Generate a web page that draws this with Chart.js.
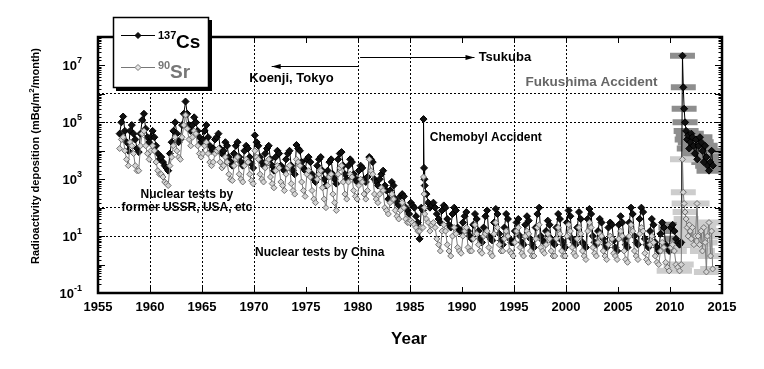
<!DOCTYPE html>
<html>
<head>
<meta charset="utf-8">
<script src="https://cdn.jsdelivr.net/npm/chart.js@4.4.1/dist/chart.umd.min.js"></script>
<style>
  html, body { margin: 0; padding: 0; background: #fff; }
</style>
</head>
<body>
<canvas id="myChart" width="764" height="369"></canvas>
<script>
// bimonthly samples, 6 per year, 1957 .. 2010 (mBq/m2/month)
let sampleStart = 1957;
let samplesPerYear = 6;

let csBimonthly = [
  4e4, 1e5, 1.6e5, 5e4, 2e4, 1e4,          // 1957
  5e4, 8e4, 4e4, 2.5e4, 1.2e4, 9e3,        // 1958
  4e4, 1.2e5, 2e5, 6e4, 3e4, 2e4,          // 1959
  3e4, 5e4, 3e4, 1.5e4, 8e3, 5e3,          // 1960
  6e3, 4e3, 3e3, 2.5e3, 2e3, 8e3,          // 1961
  2e4, 5e4, 1e5, 4e4, 2e4, 2.5e4,          // 1962
  8e4, 2e5, 5.4e5, 2e5, 8e4, 5e4,          // 1963
  8e4, 1.5e5, 1e5, 5e4, 3e4, 2e4,          // 1964
  2.5e4, 5e4, 8e4, 3e4, 1.5e4, 1e4,        // 1965
  1.2e4, 2.5e4, 3e4, 4e4, 1.2e4, 8e3,      // 1966
  1e4, 2e4, 1.5e4, 6e3, 4e3, 3e3,          // 1967
  8e3, 1.5e4, 2e4, 6e3, 4e3, 3e3,          // 1968
  1e4, 1.5e4, 1.2e4, 6e3, 3.5e3, 2.5e3,    // 1969
  3.5e4, 2e4, 1.5e4, 6e3, 4e3, 3e3,        // 1970
  8e3, 1.2e4, 1.5e4, 5e3, 3e3, 2e3,        // 1971
  6e3, 1e4, 8e3, 3e3, 2.5e3, 2e3,          // 1972
  5e3, 8e3, 1e4, 3e3, 2e3, 1.5e3,          // 1973
  1.6e4, 1.2e4, 1e4, 4e3, 2.5e3, 2e3,      // 1974
  5e3, 6e3, 4e3, 1.5e3, 1e3, 8e2,          // 1975
  3e3, 5e3, 6e3, 2e3, 1e3, 6e2,            // 1976
  2e3, 4e3, 5e3, 1.5e3, 1e3, 7e2,          // 1977
  5e3, 8e3, 9e3, 3e3, 1.5e3, 1e3,          // 1978
  3e3, 5e3, 4e3, 1.5e3, 1e3, 8e2,          // 1979
  2e3, 3e3, 2.5e3, 1e3, 8e2, 1.2e3,        // 1980
  6e3, 5e3, 4e3, 1e3, 8e2, 6e2,            // 1981
  1e3, 1.5e3, 2e3, 6e2, 4e2, 2e2,          // 1982
  4e2, 8e2, 6e2, 2e2, 1.5e2, 1.2e2,        // 1983
  2.5e2, 3e2, 2.5e2, 1e2, 8e1, 6e1,        // 1984
  1.5e2, 1.2e2, 1e2, 5e1, 3e1, 8,          // 1985
  1e2, 8e1, 6e2, 3e2, 1.5e2, 1e2,          // 1986
  1.2e2, 1.5e2, 1e2, 6e1, 4e1, 3e1,        // 1987
  8e1, 1.2e2, 1e2, 4e1, 2.5e1, 2e1,        // 1988
  6e1, 1e2, 8e1, 2e1, 1.5e1, 1.5e1,        // 1989
  30, 50, 70, 15, 10, 8,                   // 1990
  25, 60, 40, 15, 8, 6,                    // 1991
  20, 50, 80, 10, 8, 7,                    // 1992
  30, 90, 60, 12, 7, 5,                    // 1993
  20, 60, 40, 8, 6, 6,                     // 1994
  15, 30, 40, 10, 6, 5,                    // 1995
  25, 50, 35, 8, 5, 4,                     // 1996
  20, 60, 100, 10, 7, 6,                   // 1997
  15, 35, 25, 8, 6, 5,                     // 1998
  20, 60, 40, 7, 5, 4,                     // 1999
  30, 80, 50, 8, 6, 5,                     // 2000
  20, 70, 40, 6, 5, 4,                     // 2001
  40, 90, 60, 10, 6, 5,                    // 2002
  15, 40, 30, 8, 5, 4,                     // 2003
  20, 30, 25, 7, 4, 3,                     // 2004
  25, 50, 30, 8, 5, 4,                     // 2005
  30, 100, 60, 10, 6, 5,                   // 2006
  40, 100, 70, 8, 5, 4,                    // 2007
  15, 40, 25, 6, 4, 3,                     // 2008
  12, 30, 20, 5, 4, 3,                     // 2009
  20, 25, 15, 8, 6, 5                      // 2010
];

let srBimonthly = [
  1.2e4, 2.5e4, 3e4, 1e4, 5e3, 3e3,        // 1957
  2e4, 1.5e4, 8e3, 3e3, 2e3, 2e3,          // 1958
  1.5e4, 4e4, 5e4, 1.5e4, 8e3, 5e3,        // 1959
  1e4, 1.5e4, 1e4, 4e3, 2e3, 1.5e3,        // 1960
  1.5e3, 1.2e3, 8e2, 7e2, 6e2, 3e3,        // 1961
  6e3, 1.5e4, 3e4, 1e4, 6e3, 5e3,          // 1962
  3e4, 8e4, 1.8e5, 6e4, 2.5e4, 1.5e4,      // 1963
  3e4, 5e4, 4e4, 1.5e4, 8e3, 6e3,          // 1964
  8e3, 1.5e4, 2e4, 8e3, 4e3, 3e3,          // 1965
  4e3, 8e3, 1e4, 1.2e4, 4e3, 2.5e3,        // 1966
  3e3, 6e3, 4e3, 1.5e3, 1e3, 9e2,          // 1967
  3e3, 5e3, 6e3, 1.5e3, 1e3, 8e2,          // 1968
  3e3, 5e3, 4e3, 1.5e3, 9e2, 7e2,          // 1969
  1e4, 6e3, 5e3, 1.5e3, 1e3, 8e2,          // 1970
  2.5e3, 4e3, 5e3, 1.2e3, 7e2, 5e2,        // 1971
  2e3, 3e3, 2.5e3, 8e2, 6e2, 4e2,          // 1972
  1.5e3, 2.5e3, 3e3, 7e2, 4e2, 3e2,        // 1973
  5e3, 4e3, 3e3, 8e2, 4e2, 2.5e2,          // 1974
  1.5e3, 2e3, 1.2e3, 4e2, 2e2, 1.5e2,      // 1975
  1e3, 1.5e3, 2e3, 5e2, 2e2, 1e2,          // 1976
  6e2, 1.2e3, 1.5e3, 3e2, 1.5e2, 8e1,      // 1977
  1.5e3, 2.5e3, 3e3, 8e2, 3e2, 2e2,        // 1978
  8e2, 1.5e3, 1.2e3, 4e2, 2.5e2, 2e2,      // 1979
  6e2, 1e3, 8e2, 3e2, 2e2, 4e2,            // 1980
  5e3, 2e3, 1.5e3, 3e2, 2e2, 1.5e2,        // 1981
  3e2, 5e2, 4e2, 1e2, 8e1, 6e1,            // 1982
  1.5e2, 3e2, 2e2, 8e1, 5e1, 4e1,          // 1983
  8e1, 1.5e2, 1e2, 4e1, 3e1, 3e1,          // 1984
  3.5e1, 3e1, 2.5e1, 2e1, 1.5e1, 1.5e1,    // 1985
  2e1, 2e1, 6e1, 4e1, 3e1, 1.5e1,          // 1986
  2.5e1, 3e1, 2e1, 8, 5, 3,                // 1987
  1.5e1, 2.5e1, 1.5e1, 5, 3, 2,            // 1988
  1e1, 2e1, 1.2e1, 4, 3, 2.5,              // 1989
  10, 15, 20, 4, 3, 3,                     // 1990
  8, 25, 12, 5, 3, 2.5,                    // 1991
  10, 12, 15, 4, 2.5, 2,                   // 1992
  12, 30, 20, 5, 3, 3,                     // 1993
  8, 15, 10, 3, 2.5, 2,                    // 1994
  6, 15, 20, 4, 2.5, 2,                    // 1995
  10, 15, 12, 3, 2, 2,                     // 1996
  8, 20, 25, 4, 3, 2.5,                    // 1997
  5, 12, 8, 3, 2, 2,                       // 1998
  8, 20, 12, 3, 2, 2,                      // 1999
  10, 25, 15, 4, 2.5, 2,                   // 2000
  8, 20, 12, 3, 2, 1.5,                    // 2001
  15, 30, 20, 4, 2.5, 2,                   // 2002
  6, 12, 10, 3, 2, 1.5,                    // 2003
  5, 10, 8, 2.5, 2, 1.5,                   // 2004
  8, 15, 10, 3, 1.5, 1.2,                  // 2005
  10, 25, 15, 3, 2, 1.5,                   // 2006
  12, 20, 15, 2.5, 1.5, 1.2,               // 2007
  5, 10, 6, 2, 1.2, 1,                     // 2008
  3, 6, 4, 1.2, 0.8, 0.6,                  // 2009
  4, 5, 3, 1, 0.8, 0.6                     // 2010
];

// Chernobyl months (1986)
let chernobylYears = [1986.30, 1986.35, 1986.39];
let chernobylCs = [1.3e5, 2.5e3, 1e3];
let chernobylSr = [1.2e3, 3e2, 1e2];

// Fukushima period (2011-2014)
let fukushimaCsYears = [2011.08, 2011.2, 2011.28, 2011.36, 2011.45, 2011.55, 2011.65, 2011.75, 2011.85, 2011.95,
  2012.05, 2012.15, 2012.25, 2012.38, 2012.5, 2012.62, 2012.75, 2012.88, 2013.0, 2013.12,
  2013.25, 2013.38, 2013.5, 2013.62, 2013.75, 2013.88, 2014.0, 2014.12];
let fukushimaCs = [6, 2.2e7, 1.7e6, 3e5, 1e5, 5e4, 2.5e4, 3.5e4, 1.2e4, 2e4,
  4e4, 3e4, 1.5e4, 8e3, 2.5e4, 5e3, 1.5e4, 3e4, 2e4, 1e4,
  4e3, 1.5e4, 6e3, 3e3, 2e3, 4e3, 1e4, 3e3];
let fukushimaSrYears = [2011.08, 2011.2, 2011.28, 2011.36, 2011.45, 2011.55, 2011.65, 2011.75, 2011.85, 2011.95,
  2012.05, 2012.15, 2012.3, 2012.45, 2012.6, 2012.7, 2012.85, 2013.0, 2013.12, 2013.25,
  2013.38, 2013.5, 2013.6, 2013.75, 2013.9, 2014.0, 2014.1];
let fukushimaSr = [1, 5e3, 3.5e2, 1.4e2, 7e1, 4e1, 2e1, 1e1, 2.5e1, 1.5e1,
  8, 2e1, 5, 1e1, 1.4e2, 1e1, 5, 1.5e1, 3, 2e1,
  6, 0.55, 1e1, 3e1, 2, 1.5e1, 0.7];

let xTickYears = [1955, 1960, 1965, 1970, 1975, 1980, 1985, 1990, 1995, 2000, 2005, 2010, 2015];
let xGridYears = [1960, 1965, 1970, 1980, 1985, 1995, 2000];
let yLabelExponents = [-1, 1, 3, 5, 7];
let yGridExponents = [1, 2, 5, 6];

const FONT = '"Liberation Sans", Arial, Helvetica, sans-serif';
const barHalfWidth = 1.2;   // years, grey range bars after 2010
const barFrom = 2009.9;

function buildSeries(values, extraYears, extraValues) {
  let pts = values.map((v, i) => ({ x: sampleStart + (i + 0.5) / samplesPerYear, y: v }));
  extraYears.forEach((yr, i) => pts.push({ x: yr, y: extraValues[i] }));
  return pts.sort((a, b) => a.x - b.x);
}

function buildBars(points) {
  let out = [];
  points.filter(p => p.x >= barFrom).forEach(p => {
    out.push({ x: p.x - barHalfWidth, y: p.y });
    out.push({ x: p.x + barHalfWidth, y: p.y });
    out.push({ x: p.x + barHalfWidth, y: null });
  });
  return out;
}

let csPoints = buildSeries(csBimonthly, chernobylYears.concat(fukushimaCsYears), chernobylCs.concat(fukushimaCs));
let srPoints = buildSeries(srBimonthly, chernobylYears.concat(fukushimaSrYears), chernobylSr.concat(fukushimaSr));

function isExp(v, list) {
  let e = Math.log10(v);
  let r = Math.round(e);
  return Math.abs(e - r) < 1e-6 && list.includes(r);
}

function txt(ctx, s, x, y, font, color, align, base) {
  ctx.font = font;
  ctx.fillStyle = color || '#000';
  ctx.textAlign = align || 'left';
  ctx.textBaseline = base || 'alphabetic';
  ctx.fillText(s, x, y);
}

function diamond(ctx, x, y, r, fill, stroke) {
  ctx.beginPath();
  ctx.moveTo(x - r, y); ctx.lineTo(x, y - r); ctx.lineTo(x + r, y); ctx.lineTo(x, y + r);
  ctx.closePath();
  ctx.fillStyle = fill; ctx.fill();
  ctx.strokeStyle = stroke; ctx.lineWidth = 1; ctx.stroke();
}

function arrow(ctx, x1, x2, y) {
  ctx.strokeStyle = '#000'; ctx.lineWidth = 1;
  ctx.beginPath(); ctx.moveTo(x1, y); ctx.lineTo(x2, y); ctx.stroke();
  let d = x2 > x1 ? 1 : -1;
  ctx.fillStyle = '#000';
  ctx.beginPath();
  ctx.moveTo(x2, y); ctx.lineTo(x2 - d * 9, y - 2.5); ctx.lineTo(x2 - d * 9, y + 2.5);
  ctx.closePath(); ctx.fill();
}

let decorations = {
  id: 'decorations',
  afterDraw(chart) {
    let ctx = chart.ctx;
    let a = chart.chartArea;
    let xs = chart.scales.x, ys = chart.scales.y;
    ctx.save();

    // inward tick marks
    ctx.strokeStyle = '#000'; ctx.lineWidth = 1;
    xTickYears.forEach(yr => {
      let px = Math.round(xs.getPixelForValue(yr)) + 0.5;
      ctx.beginPath();
      ctx.moveTo(px, a.bottom); ctx.lineTo(px, a.bottom - 6);
      ctx.moveTo(px, a.top); ctx.lineTo(px, a.top + 6);
      ctx.stroke();
    });
    ys.ticks.forEach(t => {
      let py = Math.round(ys.getPixelForValue(t.value)) + 0.5;
      let e = Math.log10(t.value);
      let len = Math.abs(e - Math.round(e)) < 1e-6 ? 7 : 3.5;
      ctx.beginPath();
      ctx.moveTo(a.left, py); ctx.lineTo(a.left + len, py);
      ctx.moveTo(a.right, py); ctx.lineTo(a.right - len, py);
      ctx.stroke();
    });

    // frame
    ctx.lineWidth = 2.5;
    ctx.strokeRect(a.left, a.top, a.right - a.left, a.bottom - a.top);

    // x tick labels
    xTickYears.forEach(yr => {
      txt(ctx, String(yr), xs.getPixelForValue(yr), 307, 'bold 13px ' + FONT, '#000', 'center', 'middle');
    });

    // y tick labels 10^n
    yLabelExponents.forEach(e => {
      let py = ys.getPixelForValue(Math.pow(10, e));
      ctx.font = 'bold 13px ' + FONT;
      let w1 = ctx.measureText('10').width;
      ctx.font = 'bold 9px ' + FONT;
      let w2 = ctx.measureText(String(e)).width;
      let right = 82;
      txt(ctx, '10', right - w2 - w1, py + 5, 'bold 13px ' + FONT, '#000', 'left');
      txt(ctx, String(e), right - w2, py - 2, 'bold 9px ' + FONT, '#000', 'left');
    });

    // axis titles
    txt(ctx, 'Year', 409, 339, 'bold 17px ' + FONT, '#000', 'center', 'middle');
    ctx.save();
    ctx.translate(39, 156);
    ctx.rotate(-Math.PI / 2);
    let p1 = 'Radioactivity deposition (mBq/m', p2 = '2', p3 = '/month)';
    ctx.font = 'bold 11px ' + FONT;
    let w1 = ctx.measureText(p1).width, w3 = ctx.measureText(p3).width;
    ctx.font = 'bold 8px ' + FONT;
    let w2 = ctx.measureText(p2).width;
    let sx = -(w1 + w2 + w3) / 2;
    txt(ctx, p1, sx, 0, 'bold 11px ' + FONT, '#000', 'left');
    txt(ctx, p2, sx + w1, -5, 'bold 8px ' + FONT, '#000', 'left');
    txt(ctx, p3, sx + w1 + w2, 0, 'bold 11px ' + FONT, '#000', 'left');
    ctx.restore();

    // annotations
    let X = v => xs.getPixelForValue(v), Y = v => ys.getPixelForValue(v);
    arrow(ctx, X(1980), X(1971.7), Math.round(Y(9.5e6)) + 0.5);
    arrow(ctx, X(1980.2), X(1991.2), Math.round(Y(2e7)) + 0.5);
    txt(ctx, 'Koenji, Tokyo', X(1973.6), Y(3.6e6), 'bold 13px ' + FONT, '#000', 'center', 'middle');
    txt(ctx, 'Tsukuba', X(1991.6), Y(1.9e7), 'bold 13px ' + FONT, '#000', 'left', 'middle');
    txt(ctx, 'Fukushima Accident', X(1996.1), Y(2.6e6), 'bold 13.5px ' + FONT, '#666', 'left', 'middle');
    txt(ctx, 'Chemobyl Accident', X(1986.9), Y(2.8e4), 'bold 12px ' + FONT, '#000', 'left', 'middle');
    txt(ctx, 'Nuclear tests by', X(1963.55), Y(2.8e2), 'bold 12px ' + FONT, '#000', 'center', 'middle');
    txt(ctx, 'former USSR, USA, etc', X(1963.55), Y(98), 'bold 12px ' + FONT, '#000', 'center', 'middle');
    txt(ctx, 'Nuclear tests by China', X(1970.1), Y(2.6), 'bold 12px ' + FONT, '#000', 'left', 'middle');

    // legend box
    ctx.fillStyle = '#000';
    ctx.fillRect(116, 20, 96, 71);
    ctx.fillStyle = '#fff';
    ctx.fillRect(113, 17, 95, 70);
    ctx.strokeStyle = '#000'; ctx.lineWidth = 1.5;
    ctx.strokeRect(113.5, 17.5, 95, 70);

    ctx.lineWidth = 1;
    ctx.strokeStyle = '#000';
    ctx.beginPath(); ctx.moveTo(121, 35.5); ctx.lineTo(155, 35.5); ctx.stroke();
    diamond(ctx, 138, 35.5, 3, '#111', '#000');
    txt(ctx, '137', 158, 39, 'bold 11px ' + FONT, '#000', 'left');
    txt(ctx, 'Cs', 176, 48, 'bold 19px ' + FONT, '#000', 'left');

    ctx.strokeStyle = '#777';
    ctx.beginPath(); ctx.moveTo(121, 67.5); ctx.lineTo(155, 67.5); ctx.stroke();
    diamond(ctx, 138, 67.5, 3, '#e6e6e6', '#777');
    txt(ctx, '90', 158, 69, 'bold 11px ' + FONT, '#777', 'left');
    txt(ctx, 'Sr', 170, 78, 'bold 19px ' + FONT, '#777', 'left');

    ctx.restore();
  }
};

let myChart = document.getElementById('myChart').getContext('2d');

let chart = new Chart(myChart, {
  type: 'line',
  data: {
    datasets: [
      {
        label: '90Sr',
        data: srPoints,
        borderColor: '#7a7a7a',
        borderWidth: 1,
        pointStyle: 'rectRot',
        pointRadius: 3,
        pointBackgroundColor: '#d4d4d4',
        pointBorderColor: '#6e6e6e',
        pointBorderWidth: 1,
        tension: 0,
        order: 0
      },
      {
        label: '137Cs',
        data: csPoints,
        borderColor: '#000',
        borderWidth: 1,
        pointStyle: 'rectRot',
        pointRadius: 3.5,
        pointBackgroundColor: '#111',
        pointBorderColor: '#000',
        pointBorderWidth: 1,
        tension: 0,
        order: 1
      },
      {
        label: 'Sr range',
        data: buildBars(srPoints),
        borderColor: '#cdcdcd',
        borderWidth: 6,
        borderCapStyle: 'butt',
        pointRadius: 0,
        spanGaps: false,
        clip: 0,
        order: 2
      },
      {
        label: 'Cs range',
        data: buildBars(csPoints),
        borderColor: '#8e8e8e',
        borderWidth: 6,
        borderCapStyle: 'butt',
        pointRadius: 0,
        spanGaps: false,
        clip: 0,
        order: 3
      }
    ]
  },
  options: {
    responsive: false,
    animation: false,
    layout: { padding: { left: 98, right: 42, top: 37, bottom: 76 } },
    plugins: {
      legend: { display: false },
      tooltip: { enabled: false }
    },
    scales: {
      x: {
        type: 'linear',
        min: 1955,
        max: 2015,
        ticks: { display: false, stepSize: 5 },
        grid: {
          drawTicks: false,
          lineWidth: 1,
          color: c => (c.tick && xGridYears.includes(Math.round(c.tick.value))) ? '#000' : 'rgba(0,0,0,0)'
        },
        border: { display: false, dash: [2, 2] }
      },
      y: {
        type: 'logarithmic',
        min: 0.1,
        max: 1e8,
        ticks: { display: false },
        grid: {
          drawTicks: false,
          lineWidth: 1,
          color: c => (c.tick && isExp(c.tick.value, yGridExponents)) ? '#000' : 'rgba(0,0,0,0)'
        },
        border: { display: false, dash: [2, 2] }
      }
    }
  },
  plugins: [decorations]
});
</script>
</body>
</html>
